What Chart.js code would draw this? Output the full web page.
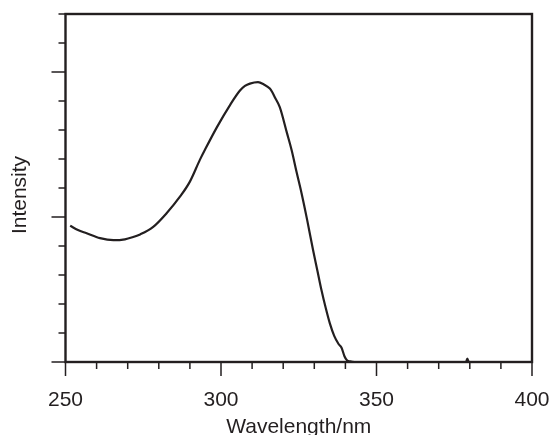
<!DOCTYPE html>
<html>
<head>
<meta charset="utf-8">
<script src="https://cdn.jsdelivr.net/npm/chart.js@4/dist/chart.umd.min.js"></script>
<style>
  html, body { margin: 0; padding: 0; background: #fff; }
  #wrap { width: 554px; height: 435px; }
</style>
</head>
<body>
<div id="wrap"><canvas id="spectrum"></canvas></div>
<script>
// --- data
var wavelengths = [251.5, 254.0, 256.8, 261.1, 265.4, 269.1, 271.5, 274.0, 278.2, 282.5,
    286.8, 290.0, 293.2, 294.8, 298.7, 302.9, 306.1, 307.7, 309.3, 311.9,
    313.8, 315.7, 316.5, 317.3, 318.9, 321.2, 322.7, 324.3, 325.9, 327.7,
    329.6, 331.0, 332.3, 333.7, 335.0, 336.4, 337.8, 338.8, 339.7, 340.5,
    341.5, 343.0, 350, 360, 370, 378.8, 379.2, 379.6];
var intensity = [4.70, 4.55, 4.44, 4.27, 4.20, 4.23, 4.30, 4.40, 4.66, 5.13,
    5.70, 6.22, 6.97, 7.31, 8.10, 8.86, 9.36, 9.52, 9.60, 9.65,
    9.57, 9.43, 9.30, 9.13, 8.79, 7.90, 7.31, 6.55, 5.82, 4.90,
    3.86, 3.15, 2.48, 1.85, 1.33, 0.90, 0.62, 0.48, 0.20, 0.06,
    0.02, 0.0, 0.0, 0.0, 0.0, 0.0, 0.12, 0.0];

var xMajor = [250, 300, 350, 400];
var xMinor = [260, 270, 280, 290, 310, 320, 330, 340, 360, 370, 380, 390];
var yMajor = [0, 5, 10];
var yMinor = [1, 2, 3, 4, 6, 7, 8, 9, 11, 12];

var ink = '#231f20';
var face = '"Liberation Sans", Arial, sans-serif';

// frame, outward tick marks and the y title, placed with the chart's own scales
var frameTicks = {
    id: 'frameTicks',
    afterDatasetsDraw: function (chart) {
        var ctx = chart.ctx, a = chart.chartArea;
        var sx = chart.scales.x, sy = chart.scales.y;
        ctx.save();
        ctx.strokeStyle = ink;
        ctx.lineWidth = 1.5;
        ctx.beginPath();
        xMajor.forEach(function (v) {
            var p = sx.getPixelForValue(v);
            ctx.moveTo(p, a.bottom); ctx.lineTo(p, a.bottom + 14);
        });
        xMinor.forEach(function (v) {
            var p = sx.getPixelForValue(v);
            ctx.moveTo(p, a.bottom); ctx.lineTo(p, a.bottom + 7);
        });
        yMajor.forEach(function (v) {
            var p = sy.getPixelForValue(v);
            ctx.moveTo(a.left, p); ctx.lineTo(a.left - 14, p);
        });
        yMinor.forEach(function (v) {
            var p = sy.getPixelForValue(v);
            ctx.moveTo(a.left, p); ctx.lineTo(a.left - 7, p);
        });
        ctx.stroke();
        ctx.lineWidth = 2.4;
        ctx.strokeRect(a.left, a.top, a.right - a.left, a.bottom - a.top);

        // y title sits a little below the middle of the axis
        ctx.translate(20.5, 195);
        ctx.rotate(-Math.PI / 2);
        ctx.fillStyle = ink;
        ctx.font = '21px ' + face;
        ctx.textAlign = 'center';
        ctx.textBaseline = 'middle';
        ctx.fillText('Intensity', 0, 0);
        ctx.restore();
    }
};

new Chart(document.getElementById('spectrum'), {
    type: 'line',
    data: {
        datasets: [{
            data: wavelengths.map(function (w, i) { return { x: w, y: intensity[i] }; }),
            borderColor: ink,
            borderWidth: 2.2,
            pointRadius: 0,
            cubicInterpolationMode: 'monotone',
            fill: false,
            clip: 4
        }]
    },
    options: {
        responsive: true,
        maintainAspectRatio: false,
        animation: false,
        layout: { padding: { top: 14, right: 22, left: 0, bottom: 0 } },
        plugins: { legend: { display: false }, tooltip: { enabled: false } },
        scales: {
            x: {
                type: 'linear',
                min: 250,
                max: 400,
                grid: { display: false, drawTicks: false },
                border: { display: false },
                ticks: {
                    stepSize: 50,
                    padding: 26,
                    color: ink,
                    maxRotation: 0,
                    font: { family: face, size: 21 }
                },
                title: {
                    display: true,
                    text: 'Wavelength/nm',
                    color: ink,
                    padding: { top: 0, bottom: -3 },
                    font: { family: face, size: 21, lineHeight: 1 }
                },
                afterFit: function (scale) {
                    scale.height = 73;
                    scale.paddingLeft = 0;
                    scale.paddingRight = 0;
                }
            },
            y: {
                min: 0,
                max: 12,
                grid: { display: false, drawTicks: false },
                border: { display: false },
                ticks: { display: false, stepSize: 1 },
                afterFit: function (scale) { scale.width = 65.5; }
            }
        }
    },
    plugins: [frameTicks]
});
</script>
</body>
</html>
